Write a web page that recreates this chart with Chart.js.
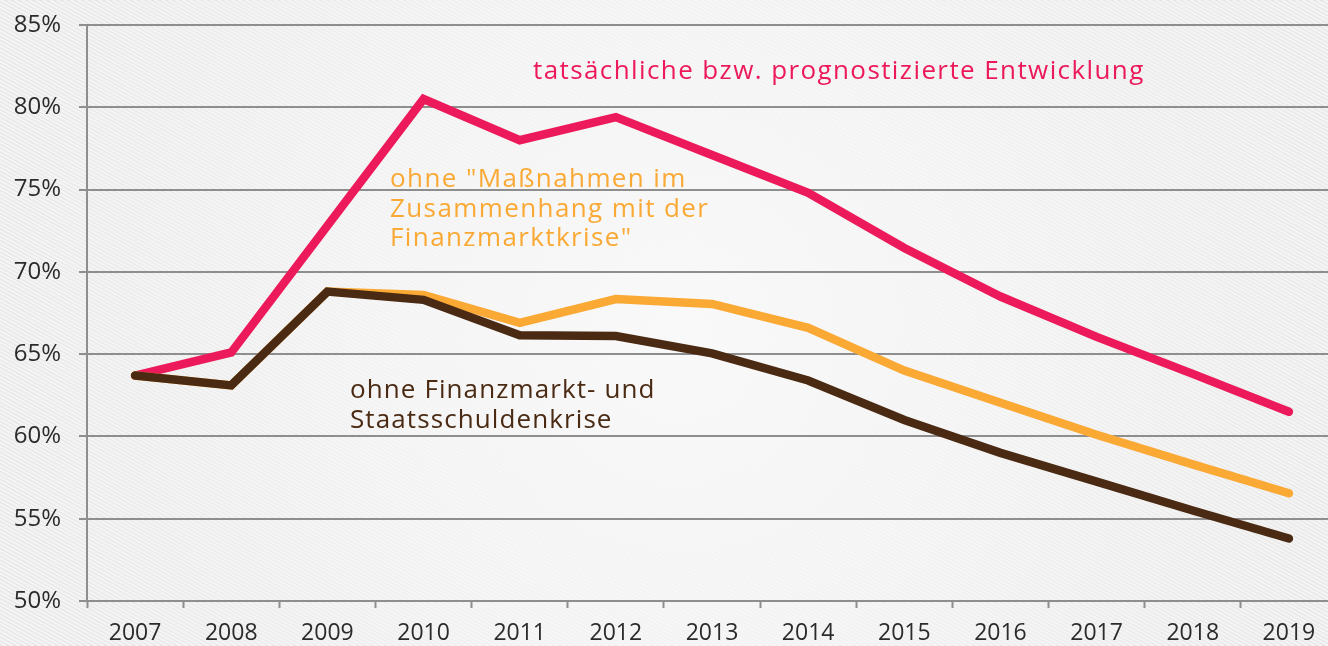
<!DOCTYPE html>
<html lang="de">
<head>
<meta charset="utf-8">
<title>Schuldenstandsquote 2007–2019</title>
<script src="https://cdn.jsdelivr.net/npm/chart.js@4/dist/chart.umd.min.js"></script>
<style>
  html, body { margin: 0; padding: 0; background: #ececec; overflow: hidden; }
  #wrap { width: 1328px; height: 646px; overflow: hidden; position: relative; }
  canvas { display: block; }
</style>
</head>
<body>
<div id="wrap"><canvas id="chart" width="1337" height="646"></canvas></div>
<script>
// Jahre und Quoten (in % des BIP)
const years = ['2007', '2008', '2009', '2010', '2011', '2012', '2013', '2014', '2015', '2016', '2017', '2018', '2019'];
const actual = [63.7, 65.1, 72.8, 80.5, 78.0, 79.4, 77.1, 74.8, 71.45, 68.5, 66.05, 63.8, 61.5];
const withoutMeasures = [63.7, 63.1, 68.8, 68.6, 66.9, 68.35, 68.05, 66.6, 64.0, 62.05, 60.1, 58.3, 56.55];
const withoutCrises = [63.7, 63.1, 68.8, 68.3, 66.15, 66.1, 65.05, 63.4, 61.0, 59.0, 57.25, 55.5, 53.8];
const yTicks = [50, 55, 60, 65, 70, 75, 80, 85];

const seriesNames = [
  'tatsächliche bzw. prognostizierte Entwicklung',
  'ohne "Maßnahmen im Zusammenhang mit der Finanzmarktkrise"',
  'ohne Finanzmarkt- und Staatsschuldenkrise'
];

const PINK = '#ec1a5a';
const ORANGE = '#faa935';
const BROWN = '#4a2a13';
const GRID = '#8e8e8e';
const FONT = '"Open Sans", "Noto Sans", sans-serif';

// Hellgrauer Hintergrund mit feinen Diagonalstreifen und hellem Zentrum
const backdrop = {
  id: 'backdrop',
  beforeDraw(chart) {
    const { ctx, width, height } = chart;
    ctx.save();
    ctx.fillStyle = '#e4e4e4';
    ctx.fillRect(0, 0, width, height);
    ctx.strokeStyle = 'rgba(255,255,255,0.6)';
    ctx.lineWidth = 2.4;
    const step = 7;
    const slope = 0.55;
    for (let x0 = -height / slope - 50; x0 < width + 50; x0 += step) {
      ctx.beginPath();
      ctx.moveTo(x0, 0);
      ctx.lineTo(x0 + height / slope, height);
      ctx.stroke();
    }
    const g = ctx.createRadialGradient(680, 330, 20, 680, 330, 740);
    g.addColorStop(0, 'rgba(249,249,249,0.95)');
    g.addColorStop(0.4, 'rgba(247,247,247,0.7)');
    g.addColorStop(1, 'rgba(240,240,240,0)');
    ctx.fillStyle = g;
    ctx.fillRect(0, 0, width, height);
    ctx.restore();
  }
};

// Beschriftung der drei Verläufe direkt im Diagramm
const seriesLabels = {
  id: 'seriesLabels',
  afterDatasetsDraw(chart) {
    const { ctx } = chart;
    ctx.save();
    ctx.textBaseline = 'alphabetic';
    ctx.textAlign = 'left';
    ctx.font = '26px ' + FONT;
    ctx.letterSpacing = '1.4px';
    ctx.fillStyle = PINK;
    ctx.fillText(seriesNames[0], 533, 79);
    ctx.fillStyle = ORANGE;
    ['ohne "Maßnahmen im', 'Zusammenhang mit der', 'Finanzmarktkrise"'].forEach((t, i) => {
      ctx.fillText(t, 390, 187 + i * 29.5);
    });
    ctx.fillStyle = BROWN;
    ctx.letterSpacing = '1.1px';
    ['ohne Finanzmarkt- und', 'Staatsschuldenkrise'].forEach((t, i) => {
      ctx.fillText(t, 350, 398 + i * 30);
    });
    ctx.restore();
  }
};

const lineStyle = {
  borderWidth: 8.5,
  pointRadius: 0,
  tension: 0,
  borderCapStyle: 'round',
  borderJoinStyle: 'miter',
  fill: false
};

new Chart(document.getElementById('chart'), {
  type: 'line',
  data: {
    labels: years,
    datasets: [
      Object.assign({ label: seriesNames[2], data: withoutCrises, borderColor: BROWN, order: 0 }, lineStyle),
      Object.assign({ label: seriesNames[1], data: withoutMeasures, borderColor: ORANGE, order: 1 }, lineStyle),
      Object.assign({ label: seriesNames[0], data: actual, borderColor: PINK, order: 2 }, lineStyle)
    ]
  },
  options: {
    responsive: false,
    animation: false,
    layout: { padding: { top: 25, left: 0, right: 0, bottom: 0 } },
    plugins: { legend: { display: false }, tooltip: { enabled: false } },
    scales: {
      x: {
        type: 'category',
        offset: true,
        afterFit(scale) { scale.height = 45; },
        grid: {
          offset: true,
          drawOnChartArea: false,
          drawTicks: true,
          tickLength: 7,
          tickWidth: 2,
          tickColor: GRID
        },
        border: { display: true, color: GRID, width: 2 },
        ticks: {
          color: '#2b2b2b',
          font: { family: FONT, size: 23 },
          padding: 12,
          maxRotation: 0,
          autoSkip: false
        }
      },
      y: {
        min: 50,
        max: 85,
        afterFit(scale) {
          scale.width = 87;
          scale.paddingTop = 0;
          scale.paddingBottom = 0;
        },
        afterBuildTicks(scale) { scale.ticks = yTicks.map(v => ({ value: v })); },
        grid: {
          color: GRID,
          lineWidth: 2,
          drawTicks: true,
          tickLength: 8,
          tickColor: GRID
        },
        border: { display: true, color: GRID, width: 2 },
        ticks: {
          color: '#2b2b2b',
          font: { family: FONT, size: 24 },
          padding: 18,
          callback: v => v + '%'
        }
      }
    }
  },
  plugins: [backdrop, seriesLabels]
});
</script>
</body>
</html>
